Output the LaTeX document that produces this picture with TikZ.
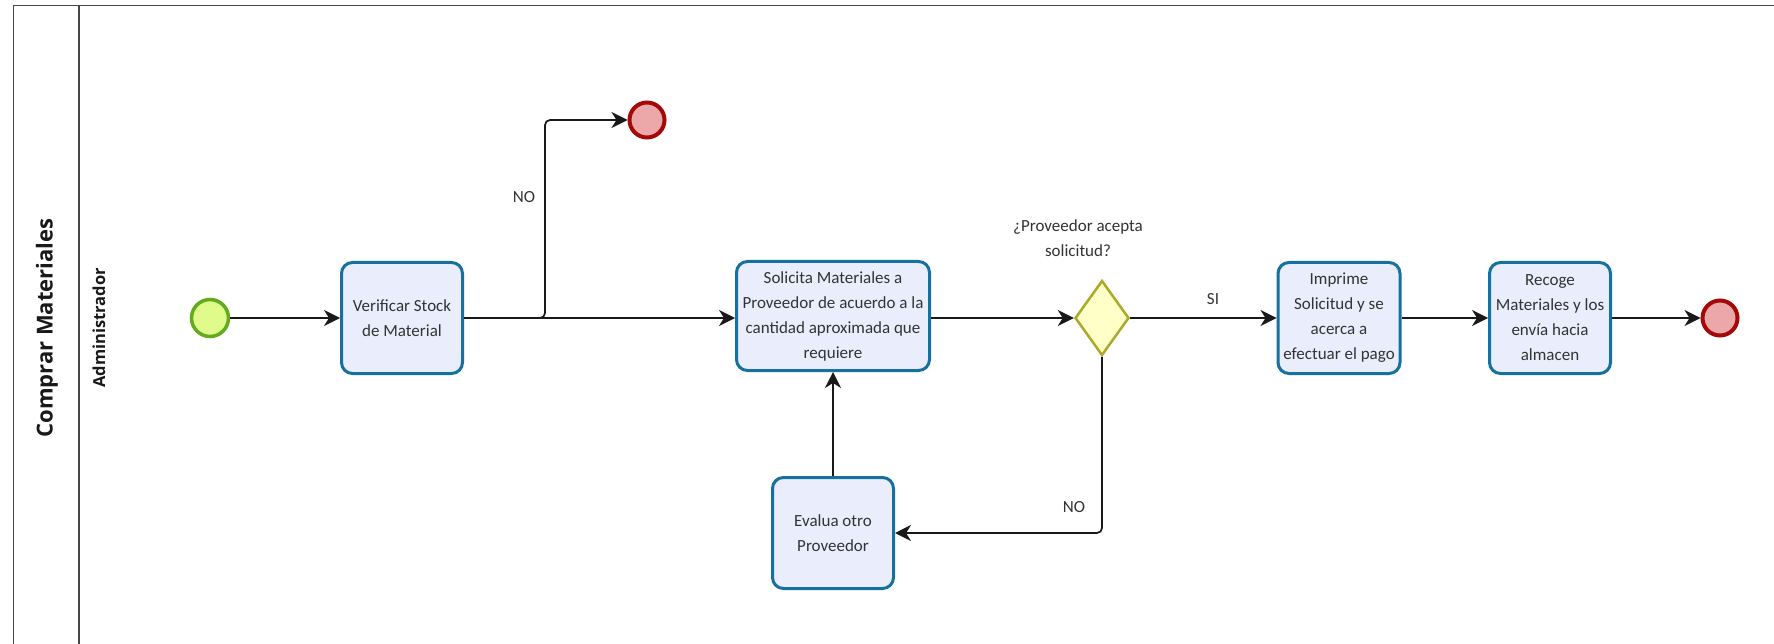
\documentclass[tikz,border=0pt]{standalone}
\usepackage{fontspec}
\setmainfont{Carlito}
\newfontfamily\lanefont{Open Sans}
\usetikzlibrary{shapes.geometric,arrows.meta}

\definecolor{taskfill}{RGB}{234,238,252}
\definecolor{taskline}{RGB}{22,112,160}
\definecolor{startfill}{RGB}{224,250,140}
\definecolor{startline}{RGB}{100,170,30}
\definecolor{endfill}{RGB}{236,168,168}
\definecolor{endline}{RGB}{165,8,8}
\definecolor{gwfill}{RGB}{255,255,200}
\definecolor{gwline}{RGB}{170,170,40}
\definecolor{poolline}{RGB}{70,70,70}

\tikzset{
  task/.style={draw=taskline, fill=taskfill, line width=3pt, rounded corners=11pt,
    minimum width=121pt, minimum height=111pt, align=center, inner sep=4pt,
    font=\fontsize{17}{25}\selectfont, text=black!80},
  startev/.style={circle, draw=startline, fill=startfill, line width=3.5pt, minimum size=37pt, inner sep=0pt},
  endev/.style={circle, draw=endline, fill=endfill, line width=4pt, minimum size=35pt, inner sep=0pt},
  gateway/.style={diamond, draw=gwline, fill=gwfill, line width=2.5pt, minimum width=54pt, minimum height=75pt, inner sep=0pt},
  flow/.style={draw=black!90, line width=1.7pt, -{Stealth[length=16pt,width=16pt,inset=5pt]}},
  lbl/.style={font=\fontsize{17}{25}\selectfont, text=black!80, align=center},
  lane/.style={font=\lanefont\bfseries, rotate=90, text=black!90}
}

\begin{document}
\begin{tikzpicture}[x=1pt,y=-1pt]
\useasboundingbox (0,0) rectangle (1774,644);
\fill[white] (0,0) rectangle (1774,644);

% pool and lane borders
\draw[poolline, line width=1.6pt] (13.6,650) -- (13.6,5.7) -- (1780,5.7);
\draw[poolline, line width=1.2pt] (79,5.7) -- (79,650);
\node[lane, font=\lanefont\bfseries\fontsize{22}{26}\selectfont] (pool) at (47,328) {Comprar Materiales};
\node[lane, font=\lanefont\bfseries\fontsize{16.5}{20}\selectfont] (lanename) at (99,328) {Administrador};

% events, tasks and gateway
\node[startev] (start) at (210,318) {};
\node[task] (verif) at (402,318) {Verificar Stock\\de Material};
\node[endev] (endtop) at (647,120) {};
\node[task, minimum width=193pt, minimum height=109pt] (solic) at (833,316) {Solicita Materiales a\\Proveedor de acuerdo a la\\cantidad aproximada que\\requiere};
\node[gateway] (gw) at (1102,318) {};
\node[lbl] (gwq) at (1078,238) {¿Proveedor acepta\\solicitud?};
\node[task, minimum width=122pt] (impr) at (1339,318) {Imprime\\Solicitud y se\\acerca a\\efectuar el pago};
\node[task] (recoge) at (1550,318) {Recoge\\Materiales y los\\envía hacia\\almacen};
\node[endev] (endright) at (1720,318) {};
\node[task] (evalua) at (833,533) {Evalua otro\\Proveedor};

% sequence flows
\coordinate (split) at (545,318);
\draw[flow] (start) -- (verif);
\draw[flow] (verif.east) -- (solic.west |- verif.east);
\draw[flow, rounded corners=5pt] (verif.east) -- (split) |- (endtop.west);
\node[lbl] (lno1) at (524,197) {NO};
\draw[flow] (solic.east |- gw.west) -- (gw.west);
\draw[flow] (gw.east) -- (impr.west);
\node[lbl] (lsi) at (1213,299) {SI};
\draw[flow] (impr.east) -- (recoge.west);
\draw[flow] (recoge.east) -- (endright.west);
\draw[flow, rounded corners=5pt] (gw.south) |- (evalua.east);
\node[lbl] (lno2) at (1074,507) {NO};
\draw[flow] (evalua.north) -- (solic.south);
\end{tikzpicture}
\end{document}
